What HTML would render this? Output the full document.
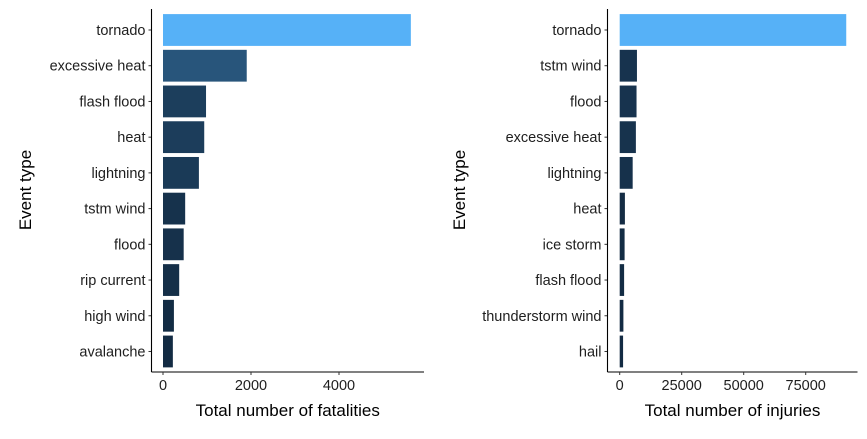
<!DOCTYPE html>
<html><head><meta charset="utf-8"><style>
body{margin:0;background:#fff;width:867px;height:434px;overflow:hidden}
text{font-family:"Liberation Sans",Arial,sans-serif}
</style></head><body>
<svg id="c" width="867" height="434"></svg>
<script>
const fatCats=["tornado","excessive heat","flash flood","heat","lightning","tstm wind","flood","rip current","high wind","avalanche"];
const fatVals=[5633,1903,978,937,816,504,470,368,248,224];
const fatTicks=[0,2000,4000];
const injCats=["tornado","tstm wind","flood","excessive heat","lightning","heat","ice storm","flash flood","thunderstorm wind","hail"];
const injVals=[91346,6957,6789,6525,5230,2100,1975,1777,1488,1361];
const injTicks=[0,25000,50000,75000];
const svg=document.getElementById('c');
const NS='http://www.w3.org/2000/svg';
function mk(t,a,p){const e=document.createElementNS(NS,t);for(const k in a)e.setAttribute(k,a[k]);(p||svg).appendChild(e);return e;}
function col(v,min,max){const f=(v-min)/(max-min);const a=[19,43,67],b=[86,177,247];return `rgb(${a.map((x,i)=>Math.round(x+(b[i]-x)*f)).join(',')})`;}
function panel(cats,vals,ticks,axX,x0,pxPerUnit,axEnd,title,ytx,name){
  const g=mk('g',{});
  const xs=v=>x0+v*pxPerUnit;
  const yc=i=>30+i*35.72;
  const mn=Math.min(...vals),mx=Math.max(...vals);
  cats.forEach((c,i)=>{
    const r=mk('rect',{x:xs(0),y:yc(i)-15.9,width:xs(vals[i])-xs(0),height:31.8,fill:col(vals[i],mn,mx)},g);
    
    
    mk('line',{x1:axX-3,x2:axX,y1:yc(i),y2:yc(i),stroke:'#333','stroke-width':1},g);
    const t=mk('text',{x:axX-6,y:yc(i)+5,'text-anchor':'end','font-size':14.5,fill:'#1e1e1e'},g);t.textContent=c;
    
    
  });
  mk('line',{x1:axX,x2:axX,y1:9,y2:372,stroke:'#000','stroke-width':1.1},g);
  mk('line',{x1:axX,x2:axEnd,y1:372,y2:372,stroke:'#000','stroke-width':1.1},g);
  ticks.forEach(v=>{
    mk('line',{x1:xs(v),x2:xs(v),y1:372,y2:375,stroke:'#333'},g);
    const t=mk('text',{x:xs(v),y:390,'text-anchor':'middle','font-size':14.5,fill:'#1e1e1e'},g);t.textContent=v;
    
    
  });
  const xt=mk('text',{x:(axX+axEnd)/2,y:416,'text-anchor':'middle','font-size':17,fill:'#000'},g);xt.textContent=title;
  
  
  const yt=mk('text',{x:0,y:0,'text-anchor':'middle','font-size':17,fill:'#000',transform:`translate(${ytx},190) rotate(-90)`},g);yt.textContent='Event type';
  
  
}
panel(fatCats,fatVals,fatTicks,151.5,163,88/2000,424,'Total number of fatalities',31,'fatalities-panel');
panel(injCats,injVals,injTicks,607.5,619.7,62/25000,857.5,'Total number of injuries',465,'injuries-panel');
</script>
</body></html>
